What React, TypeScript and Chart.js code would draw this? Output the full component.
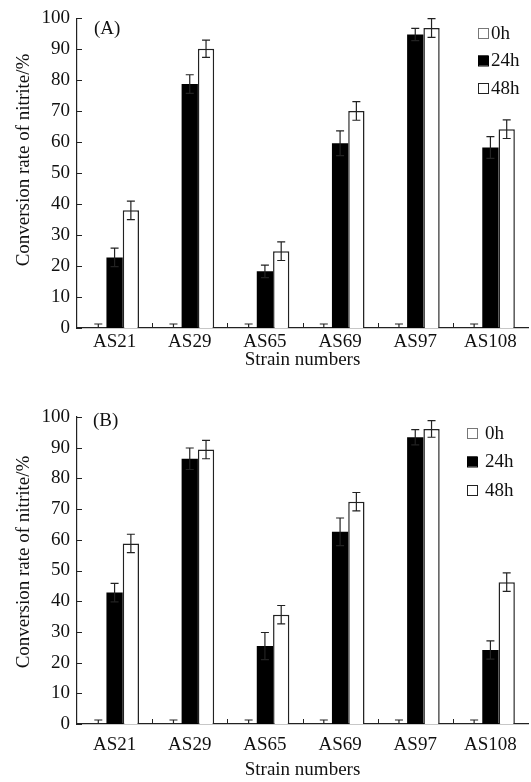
import React, { useEffect, useRef } from "react";
import { Chart, registerables } from "chart.js";

Chart.register(...registerables);

const categories = ["AS21", "AS29", "AS65", "AS69", "AS97", "AS108"];
const seriesLabels = ["0h", "24h", "48h"];
const xTitle = "Strain numbers";
const yTitle = "Conversion rate of nitrite/%";

// Panel A
const a0h = [0, 0, 0, 0, 0, 0];
const a0hErr = [1.3, 1.3, 1.3, 1.3, 1.3, 1.3];
const a24h = [22.8, 78.8, 18.3, 59.7, 94.8, 58.3];
const a24hErr = [3, 3, 2, 4, 2, 3.5];
const a48h = [38.0, 90.2, 24.8, 70.1, 96.9, 64.2];
const a48hErr = [3, 2.8, 3, 3, 3, 3];

// Panel B
const b0h = [0, 0, 0, 0, 0, 0];
const b0hErr = [1.3, 1.3, 1.3, 1.3, 1.3, 1.3];
const b24h = [42.8, 86.4, 25.4, 62.6, 93.4, 24.1];
const b24hErr = [3, 3.5, 4.4, 4.5, 2.5, 3];
const b48h = [58.8, 89.4, 35.6, 72.4, 96.1, 46.2];
const b48hErr = [3, 3, 3, 3, 2.7, 3];

const yMin = 0;
const yMax = 100;
const yStep = 10;

const FONT = "'Liberation Serif', 'Times New Roman', serif";

const errorBarPlugin = {
  id: "errorBars",
  afterDatasetsDraw(chart: any) {
    const ctx = chart.ctx;
    const y = chart.scales.y;
    ctx.save();
    ctx.strokeStyle = "#222";
    ctx.lineWidth = 1.2;
    chart.data.datasets.forEach((ds: any, di: number) => {
      const meta = chart.getDatasetMeta(di);
      meta.data.forEach((bar: any, i: number) => {
        const v = ds.data[i];
        const e = ds.errors[i];
        const x = bar.x;
        const yTop = y.getPixelForValue(v + e);
        const yBot = y.getPixelForValue(Math.max(v - e, 0));
        ctx.beginPath();
        ctx.moveTo(x, yBot);
        ctx.lineTo(x, yTop);
        ctx.moveTo(x - 4, yTop);
        ctx.lineTo(x + 4, yTop);
        if (v - e > 0) {
          ctx.moveTo(x - 4, yBot);
          ctx.lineTo(x + 4, yBot);
        }
        ctx.stroke();
      });
    });
    ctx.restore();
  },
};

const axisTickPlugin = {
  id: "innerTicks",
  afterDraw(chart: any) {
    const ctx = chart.ctx;
    const x = chart.scales.x;
    const y = chart.scales.y;
    const area = chart.chartArea;
    ctx.save();
    ctx.strokeStyle = "#222";
    ctx.lineWidth = 1;
    ctx.beginPath();
    for (let v = yMin; v <= yMax; v += yStep) {
      const py = Math.round(y.getPixelForValue(v)) + 0.5;
      ctx.moveTo(area.left, py);
      ctx.lineTo(area.left + 5, py);
    }
    for (let i = 0; i < categories.length - 1; i++) {
      const px = Math.round((x.getPixelForValue(i) + x.getPixelForValue(i + 1)) / 2) + 0.5;
      ctx.moveTo(px, area.bottom);
      ctx.lineTo(px, area.bottom - 5);
    }
    ctx.stroke();
    ctx.restore();
  },
};

const legendPlugin = {
  id: "customLegend",
  afterDraw(chart: any) {
    const o = chart.options.plugins.customLegend;
    const ctx = chart.ctx;
    ctx.save();
    ctx.font = `19px ${FONT}`;
    ctx.textBaseline = "middle";
    ctx.textAlign = "left";
    chart.data.datasets.forEach((ds: any, i: number) => {
      const cy = o.y + i * o.gap;
      ctx.fillStyle = ds.backgroundColor;
      ctx.fillRect(o.x, cy - 5, 10, 10);
      ctx.strokeStyle = ds.legendBorder;
      ctx.lineWidth = 1;
      ctx.strokeRect(o.x + 0.5, cy - 4.5, 10, 10);
      ctx.fillStyle = "#111";
      ctx.fillText(ds.label, o.x + o.textGap, cy + 1);
    });
    ctx.fillText(o.panel, o.panelX, o.panelY);
    // y axis title
    ctx.translate(o.yTitleX, o.yTitleY);
    ctx.rotate(-Math.PI / 2);
    ctx.textAlign = "center";
    ctx.font = `19px ${FONT}`;
    ctx.fillText(yTitle, 0, 0);
    ctx.restore();
  },
};

type PanelProps = {
  top: number;
  height: number;
  areaTop: number;
  areaBottom: number;
  tickPad: number;
  d0: number[];
  e0: number[];
  d24: number[];
  e24: number[];
  d48: number[];
  e48: number[];
  legend: any;
};

function Panel(p: PanelProps) {
  const ref = useRef<HTMLCanvasElement | null>(null);
  useEffect(() => {
    if (!ref.current) return;
    const chart = new Chart(ref.current, {
      type: "bar",
      data: {
        labels: categories,
        datasets: [
          {
            label: seriesLabels[0],
            data: p.d0,
            errors: p.e0,
            backgroundColor: "#ffffff",
            borderColor: "#777",
            legendBorder: "#777",
            borderWidth: 0,
          } as any,
          {
            label: seriesLabels[1],
            data: p.d24,
            errors: p.e24,
            backgroundColor: "#000000",
            borderColor: "#000000",
            legendBorder: "#000",
            borderWidth: 0,
          } as any,
          {
            label: seriesLabels[2],
            data: p.d48,
            errors: p.e48,
            backgroundColor: "#ffffff",
            borderColor: "#222",
            legendBorder: "#222",
            borderWidth: 1.5,
            borderSkipped: "bottom",
          } as any,
        ],
      },
      options: {
        responsive: false,
        animation: false,
        devicePixelRatio: 1,
        layout: { padding: { top: p.areaTop, left: 0, right: 3, bottom: 0 } },
        datasets: { bar: { categoryPercentage: 0.65, barPercentage: 1.0 } },
        plugins: {
          legend: { display: false },
          tooltip: { enabled: false },
          customLegend: p.legend,
        } as any,
        scales: {
          x: {
            grid: { display: false, drawTicks: false },
            border: { display: true, color: "#222", width: 1.2 },
            ticks: {
              color: "#111",
              padding: p.tickPad,
              font: { family: FONT, size: 19 },
              maxRotation: 0,
              autoSkip: false,
            },
            title: {
              display: true,
              text: xTitle,
              color: "#111",
              font: { family: FONT, size: 19 },
              padding: { top: 0, bottom: 1 },
            },
            afterFit: (s: any) => {
              s.height = p.height - p.areaBottom;
            },
          },
          y: {
            min: yMin,
            max: yMax,
            grid: { display: false, drawTicks: false },
            border: { display: true, color: "#222", width: 1.2 },
            ticks: {
              stepSize: yStep,
              color: "#111",
              padding: 7,
              font: { family: FONT, size: 19 },
            },
            afterFit: (s: any) => {
              s.width = 77;
            },
          },
        },
      },
      plugins: [errorBarPlugin, axisTickPlugin, legendPlugin],
    } as any);
    return () => chart.destroy();
  }, []);
  return (
    <canvas
      ref={ref}
      width={531}
      height={p.height}
      style={{ position: "absolute", left: 0, top: p.top, width: 531, height: p.height }}
    />
  );
}

export default function App() {
  return (
    <div
      style={{
        position: "absolute",
        left: 0,
        top: 0,
        width: 531,
        height: 782,
        background: "#ffffff",
        overflow: "hidden",
      }}
    >
      <Panel
        top={0}
        height={372}
        areaTop={16}
        areaBottom={328}
        tickPad={3}
        d0={a0h}
        e0={a0hErr}
        d24={a24h}
        e24={a24hErr}
        d48={a48h}
        e48={a48hErr}
        legend={{ x: 478, y: 33, gap: 27.5, textGap: 13, panel: "(A)", panelX: 94, panelY: 29, yTitleX: 24, yTitleY: 160 }}
      />
      <Panel
        top={372}
        height={410}
        areaTop={45}
        areaBottom={352}
        tickPad={10}
        d0={b0h}
        e0={b0hErr}
        d24={b24h}
        e24={b24hErr}
        d48={b48h}
        e48={b48hErr}
        legend={{ x: 467, y: 61, gap: 28.5, textGap: 18, panel: "(B)", panelX: 93, panelY: 49, yTitleX: 24, yTitleY: 190 }}
      />
    </div>
  );
}
